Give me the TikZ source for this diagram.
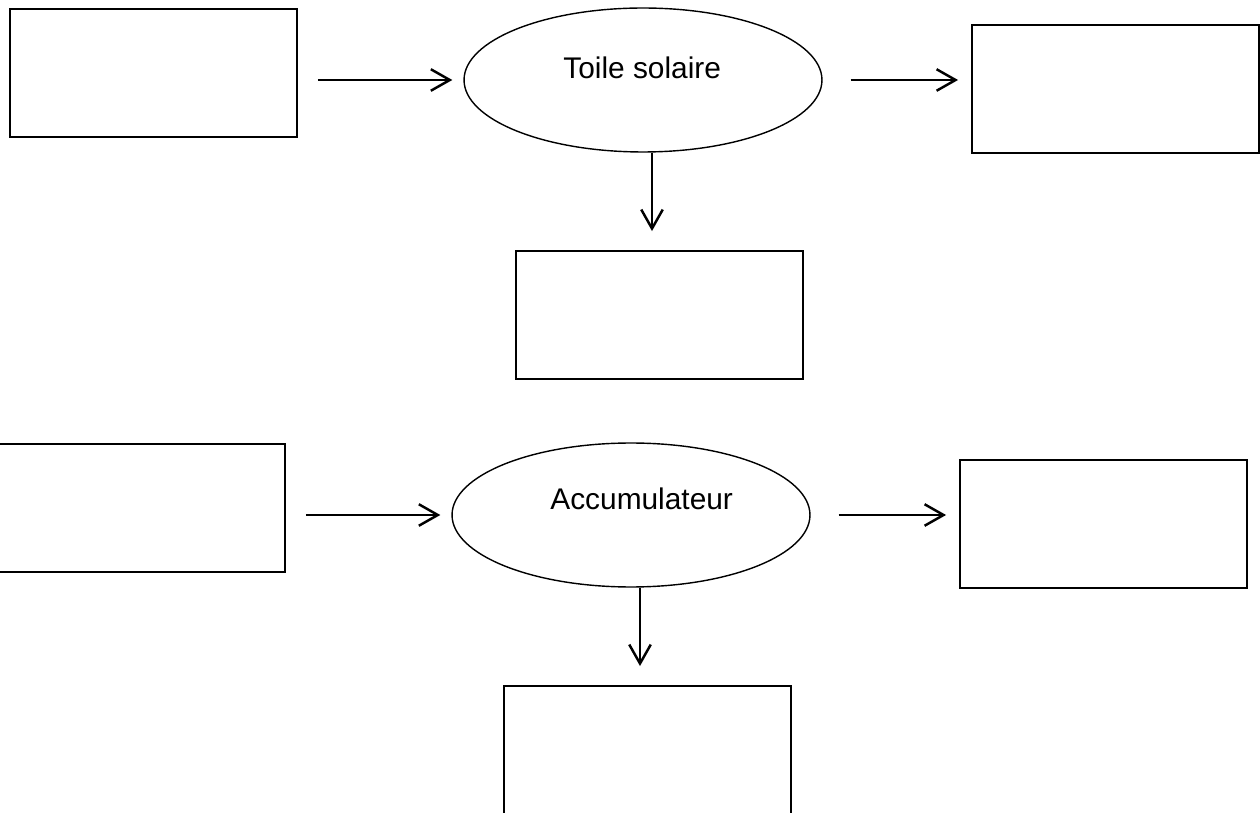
\documentclass[tikz,border=0pt]{standalone}
\usepackage{fontspec}
\setmainfont{Liberation Sans}
\usetikzlibrary{shapes.geometric,arrows.meta,calc}

\begin{document}
\begin{tikzpicture}[x=0.02cm, y=-0.02cm,
    caja/.style={
        draw,
        line width=1.1pt,
        minimum width=5.74cm,
        minimum height=2.56cm,
        inner sep=0pt
    },
    proceso/.style={
        draw,
        ellipse,
        line width=0.8pt,
        minimum width=7.16cm,
        minimum height=2.88cm,
        inner sep=0pt
    },
    etiqueta/.style={
        anchor=base west,
        inner sep=0pt,
        font=\fontsize{17}{20}\selectfont
    },
    flecha/.style={
        -{Straight Barb[length=0.38cm,width=0.43cm]},
        line width=1.4pt
    }
]

%------------------------------------------------
% Marco de la figura
%------------------------------------------------
\useasboundingbox (0,0) rectangle (1260,813);

%------------------------------------------------
% Dos bloques: nombre/desplazamiento/texto/posición del texto
%------------------------------------------------
\foreach \g/\dx/\dy/\texto/\tx/\ty in {s/0/0/Toile solaire/563/79,
                                       a/-12/435/Accumulateur/550/510} {

    % elipse central y su texto
    \node[proceso] (proc\g) at ({643+\dx},{80+\dy}) {};
    \node[etiqueta] (txt\g) at (\tx,\ty) {\texto};

    % cajas vacías
    \node[caja] (izq\g)   at ({153.5+\dx},{73+\dy}) {};
    \node[caja] (der\g)   at ({1115.5+\dx},{89+\dy}) {};
    \node[caja] (abajo\g) at ({659.5+\dx},{315+\dy}) {};

    % salida hacia abajo
    \coordinate (sal\g) at ($(proc\g.south)+(9,0)$);

    % flechas
    \draw[flecha, shorten <=0.4cm, shorten >=0.22cm]
        (proc\g.west -| izq\g.east) -- (proc\g.west);
    \draw[flecha, shorten <=0.56cm, shorten >=0.26cm]
        (proc\g.east) -- (proc\g.east -| der\g.west);
    \draw[flecha, shorten >=0.38cm]
        (sal\g) -- (sal\g |- abajo\g.north);
}

\end{tikzpicture}
\end{document}
